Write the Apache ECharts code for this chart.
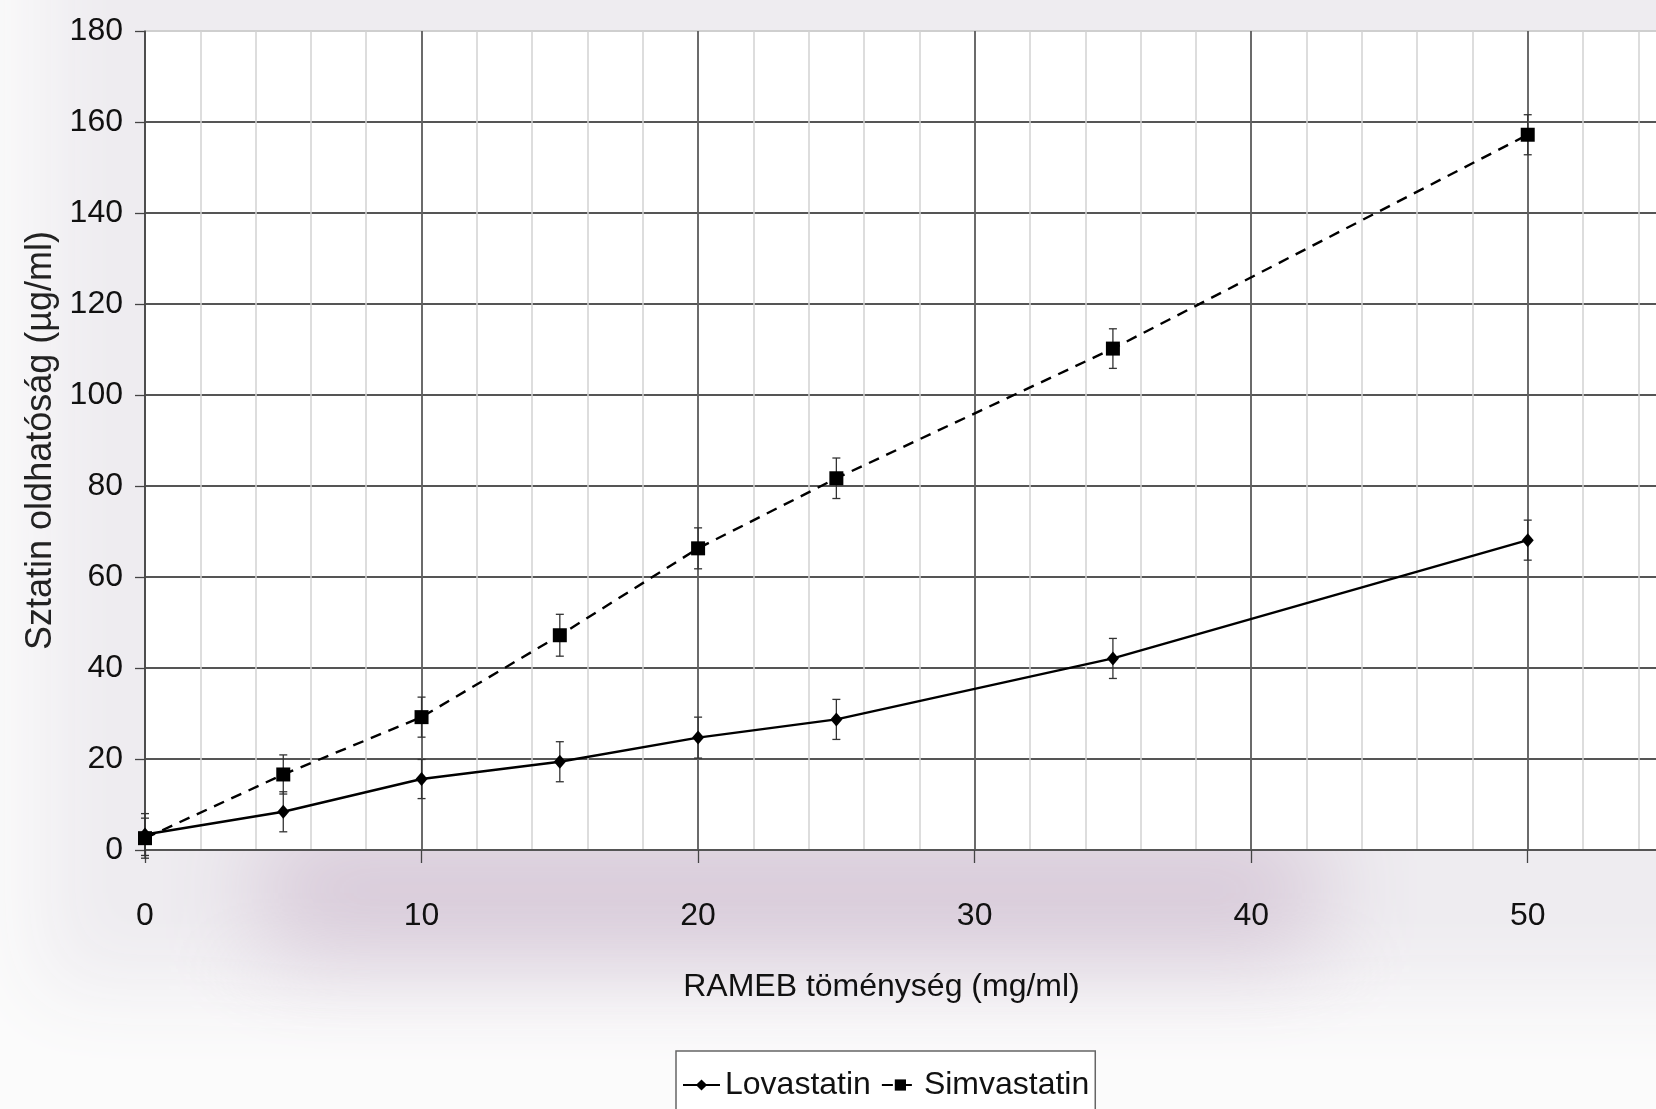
<!DOCTYPE html>
<html lang="hu">
<head>
    <meta charset="UTF-8">
    <title>Sztatin oldhatóság</title>
    <style>
        html, body { margin: 0; padding: 0; background: #fbfbfb; }
    </style>
</head>
<body>
<script src="https://cdn.jsdelivr.net/npm/echarts@6/dist/echarts.min.js"></script>
<div id="main" style="width:1656px;height:1109px;"></div>

<script type="text/javascript">
    // RAMEB koncentráció (mg/ml)
    var rameb = [0, 5, 10, 15, 20, 25, 35, 50];
    var lovastatin = [3.4, 8.4, 15.6, 19.4, 24.7, 28.7, 42.1, 68.1];
    var lovastatinErr = [4.6, 4.4, 4.3, 4.4, 4.5, 4.4, 4.4, 4.4];
    var simvastatin = [2.6, 16.6, 29.2, 47.2, 66.3, 81.7, 110.2, 157.2];
    var simvastatinErr = [4.4, 4.3, 4.4, 4.6, 4.5, 4.45, 4.35, 4.4];

    var font = "'Liberation Sans', Arial, sans-serif";

    var myChart = echarts.init(document.getElementById('main'));

    function pairs(ys) {
        return rameb.map(function (x, i) { return [x, ys[i]]; });
    }
    function bars(ys, errs) {
        return rameb.map(function (x, i) { return [x, ys[i] - errs[i], ys[i] + errs[i]]; });
    }

    function errorBar(params, api) {
        var x = api.value(0);
        var top = api.coord([x, api.value(2)]);
        var bot = api.coord([x, api.value(1)]);
        var w = 4;
        var st = { stroke: '#333', lineWidth: 1.3 };
        return {
            type: 'group',
            children: [
                { type: 'line', shape: { x1: top[0], y1: top[1], x2: bot[0], y2: bot[1] }, style: st },
                { type: 'line', shape: { x1: top[0] - w, y1: top[1], x2: top[0] + w, y2: top[1] }, style: st },
                { type: 'line', shape: { x1: bot[0] - w, y1: bot[1], x2: bot[0] + w, y2: bot[1] }, style: st }
            ]
        };
    }

    // soft glow: the rect itself sits off-screen, only its blurred shadow shows
    function glow(x, y, w, h, color, blur) {
        return {
            type: 'rect', z: -10, silent: true,
            shape: { x: x + 4000, y: y, width: w, height: h },
            style: { fill: color, shadowBlur: blur, shadowColor: color, shadowOffsetX: -4000 }
        };
    }

    var yLineColors = ['#555', '#555', '#555', '#555', '#555', '#555', '#555', '#555', '#555', '#cfcfcf'];

    option = {
        backgroundColor: 'transparent',
        animation: false,
        graphic: [
            glow(40, -120, 1750, 1110, '#eeecf0', 80),
            glow(260, 830, 1060, 120, '#d6c7d7', 100)
        ],
        grid: {
            left: 145,
            top: 31,
            width: 1521,
            height: 819,
            outerBoundsMode: 'none',
            containLabel: false,
            show: true,
            backgroundColor: '#fff',
            borderWidth: 0
        },
        legend: {
            data: ['Lovastatin', 'Simvastatin'],
            left: 676,
            top: 1051,
            padding: [18, 6, 18, 6],
            itemGap: 10,
            itemWidth: 37,
            itemHeight: 14,
            backgroundColor: '#fff',
            borderColor: '#666',
            borderWidth: 1.5,
            borderRadius: 0,
            textStyle: { fontFamily: font, fontSize: 32, color: '#111' }
        },
        xAxis: [
            {
                // minor grid every 2
                type: 'value',
                position: 'bottom',
                min: 0,
                max: 55,
                interval: 2,
                axisLine: { show: false },
                axisTick: { show: false },
                axisLabel: { show: false },
                splitLine: { show: true, lineStyle: { color: '#d2d2d2', width: 1.5 } }
            },
            {
                type: 'value',
                position: 'bottom',
                min: 0,
                max: 55,
                interval: 10,
                name: 'RAMEB töménység (mg/ml)',
                nameLocation: 'middle',
                nameGap: 121,
                nameTextStyle: { fontFamily: font, fontSize: 32, color: '#111', padding: [0, 48, 0, 0] },
                axisLine: { show: true, onZero: false, lineStyle: { color: '#555', width: 2 } },
                axisTick: { show: true, length: 13, lineStyle: { color: '#444', width: 1.3 } },
                axisLabel: {
                    showMaxLabel: false,
                    margin: 50,
                    fontFamily: font,
                    fontSize: 32,
                    color: '#111'
                },
                splitLine: { show: true, lineStyle: { color: '#444', width: 1.5 } }
            }
        ],
        yAxis: {
            type: 'value',
            min: 0,
            max: 180,
            interval: 20,
            name: 'Sztatin oldhatóság (µg/ml)',
            nameLocation: 'middle',
            nameGap: 86,
            nameTextStyle: { fontFamily: font, fontSize: 36, color: '#222' },
            axisLine: { show: true, lineStyle: { color: '#444', width: 1.5 } },
            axisTick: { show: true, length: 10, lineStyle: { color: '#444', width: 1.3 } },
            axisLabel: { margin: 22, fontFamily: font, fontSize: 32, color: '#111' },
            splitLine: { show: true, lineStyle: { color: yLineColors, width: 1.8 } }
        },
        series: [
            {
                name: 'Lovastatin err',
                type: 'custom',
                xAxisIndex: 1,
                renderItem: errorBar,
                encode: { x: 0, y: [1, 2] },
                data: bars(lovastatin, lovastatinErr),
                z: 3
            },
            {
                name: 'Simvastatin err',
                type: 'custom',
                xAxisIndex: 1,
                renderItem: errorBar,
                encode: { x: 0, y: [1, 2] },
                data: bars(simvastatin, simvastatinErr),
                z: 3
            },
            {
                name: 'Lovastatin',
                type: 'line',
                xAxisIndex: 1,
                data: pairs(lovastatin),
                symbol: 'diamond',
                symbolSize: [12, 14],
                itemStyle: { color: '#000' },
                lineStyle: { color: '#000', width: 2.4 },
                z: 4
            },
            {
                name: 'Simvastatin',
                type: 'line',
                xAxisIndex: 1,
                data: pairs(simvastatin),
                symbol: 'rect',
                symbolSize: 14,
                itemStyle: { color: '#000' },
                lineStyle: { color: '#000', width: 2.4, type: [11, 8] },
                z: 4
            }
        ]
    };
    myChart.setOption(option);
</script>
</body>
</html>
